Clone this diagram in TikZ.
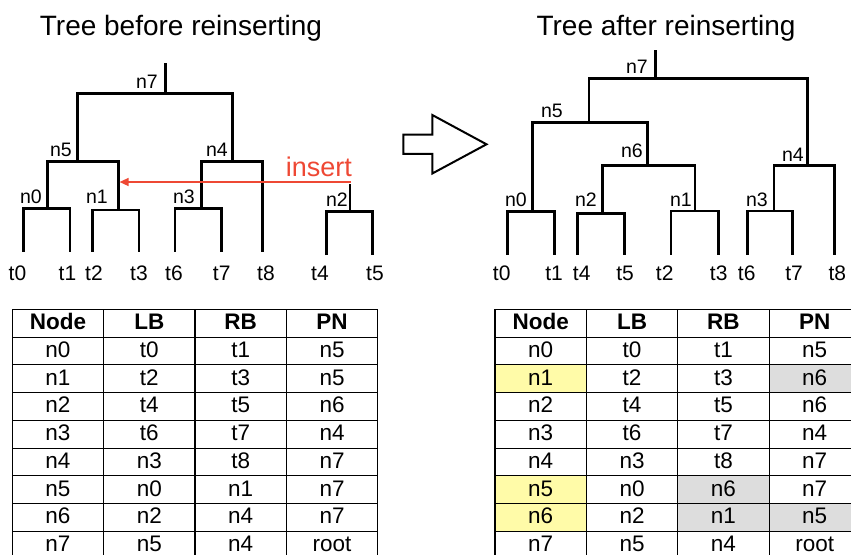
\documentclass[tikz,border=0pt]{standalone}
\usepackage{fontspec}
\setmainfont{Liberation Sans}
\usetikzlibrary{arrows.meta}
\definecolor{insred}{RGB}{238,72,52}
\definecolor{hiyel}{RGB}{255,251,168}
\definecolor{higrey}{RGB}{221,221,221}

\begin{document}
\begin{tikzpicture}[x=1pt,y=-1pt,
  branch/.style={line width=2.5pt, line join=miter, line cap=butt},
  tlabel/.style={font=\fontsize{19.5}{19.5}\selectfont, inner sep=0pt, anchor=base east},
  leaf/.style={font=\fontsize{21}{21}\selectfont, inner sep=0pt, anchor=base},
  title/.style={font=\fontsize{28}{28}\selectfont, inner sep=0pt, anchor=base},
  cell/.style={font=\fontsize{22.5}{22.5}\selectfont, inner sep=0pt, anchor=base},
  headcell/.style={cell, font=\fontsize{22.5}{22.5}\selectfont\bfseries},
  gridline/.style={line width=1.1pt},
  insarrow/.style={draw=insred, line width=1.5pt, -{Triangle[length=9pt,width=8pt]}, shorten >=1.3pt},
  bigarrow/.style={line width=2pt, line join=miter},
]
\useasboundingbox (0,0) rectangle (851,554);
\clip (0,0) rectangle (851,554);

% ---------- titles ----------
\node[title] (title-a) at (181,35) {Tree before reinserting};
\node[title] (title-b) at (666,35) {Tree after reinserting};

% ---------- tree before reinserting ----------
\foreach \n/\x/\y in {t0/23.3/251.7, t1/70/251.7, t2/92.3/251.7, t3/139/251.7,
                      t6/175/251.7, t7/221.7/251.7, t8/262.3/251.7,
                      t4/326.7/255, t5/372.3/255,
                      n0/47.7/208.3, n1/118.3/210, n3/201.7/208.3,
                      n5/77.7/161.7, n4/232.3/161.7, n7/165.7/93.3,
                      n2/350/211.7, top/165.7/63, n2top/350/184}
  \coordinate (a-\n) at (\x,\y);

\draw[branch] (a-t0) -- (a-t0 |- a-n0) -- (a-t1 |- a-n0) -- (a-t1);
\draw[branch] (a-t2) -- (a-t2 |- a-n1) -- (a-t3 |- a-n1) -- (a-t3);
\draw[branch] (a-t6) -- (a-t6 |- a-n3) -- (a-t7 |- a-n3) -- (a-t7);
\draw[branch] (a-n0) -- (a-n0 |- a-n5) -- (a-n1 |- a-n5) -- (a-n1);
\draw[branch] (a-n3) -- (a-n3 |- a-n4) -- (a-t8 |- a-n4) -- (a-t8);
\draw[branch] (a-n5) -- (a-n5 |- a-n7) -- (a-n4 |- a-n7) -- (a-n4);
\draw[branch] (a-n7) -- (a-top);
\draw[branch] (a-t4) -- (a-t4 |- a-n2) -- (a-t5 |- a-n2) -- (a-t5);
\draw[branch] (a-n2) -- (a-n2top);

\foreach \n/\x/\y in {n7/158/88, n5/72/156, n4/228/156, n0/42/203,
                      n1/108/203, n3/195/203, n2/348/206.5}
  \node[tlabel] (a-l\n) at (\x,\y) {\n};
\foreach \n/\x in {t0/17.5, t1/67.5, t2/94, t3/139, t6/174, t7/221.7,
                   t8/266, t4/320, t5/375}
  \node[leaf] (a-l\n) at (\x,280) {\n};

% the subtree n2 is moved under n1
\coordinate (a-insfrom) at (351,182);
\draw[insarrow] (a-insfrom) -- (a-n1 |- a-insfrom);
\node[anchor=base east, inner sep=0pt, text=insred,
      font=\fontsize{27}{27}\selectfont] (a-ins) at (352,176) {insert};

% ---------- block arrow ----------
\draw[bigarrow] (403.3,134.5) -- (432.3,134.5) -- (432.3,115) -- (486.5,144.3)
  -- (432.3,173.5) -- (432.3,153.8) -- (403.3,153.8) -- cycle;

% ---------- tree after reinserting ----------
\foreach \n/\x/\y in {t0/507.3/254.5, t1/554.3/254.5, t4/577.3/254.5, t5/624.3/254.5,
                      t2/671/254.5, t3/718.3/254.5, t6/747.7/254.5, t7/792.7/254.5,
                      t8/834.3/254.5,
                      n0/532.3/211.7, n2/602.7/213.5, n1/695/211, n3/774/211,
                      n6/647.7/165.7, n4/807.7/165.7, n5/589/122.7, n7/655.7/78.3,
                      top/655.7/50}
  \coordinate (b-\n) at (\x,\y);

\draw[branch] (b-t0) -- (b-t0 |- b-n0) -- (b-t1 |- b-n0) -- (b-t1);
\draw[branch] (b-t4) -- (b-t4 |- b-n2) -- (b-t5 |- b-n2) -- (b-t5);
\draw[branch] (b-t2) -- (b-t2 |- b-n1) -- (b-t3 |- b-n1) -- (b-t3);
\draw[branch] (b-t6) -- (b-t6 |- b-n3) -- (b-t7 |- b-n3) -- (b-t7);
\draw[branch] (b-n2) -- (b-n2 |- b-n6) -- (b-n1 |- b-n6) -- (b-n1);
\draw[branch] (b-n3) -- (b-n3 |- b-n4) -- (b-t8 |- b-n4) -- (b-t8);
\draw[branch] (b-n0) -- (b-n0 |- b-n5) -- (b-n6 |- b-n5) -- (b-n6);
\draw[branch] (b-n5) -- (b-n5 |- b-n7) -- (b-n4 |- b-n7) -- (b-n4);
\draw[branch] (b-n7) -- (b-top);

\foreach \n/\x/\y in {n7/648/73, n5/563/117, n6/643/157, n4/804/161,
                      n0/527/206, n2/597/206, n1/692/206, n3/768/206}
  \node[tlabel] (b-l\n) at (\x,\y) {\n};
\foreach \n/\x in {t0/501.7, t1/554, t4/581.7, t5/625, t2/664.7, t3/718.7,
                   t6/746.7, t7/794, t8/837.3}
  \node[leaf] (b-l\n) at (\x,280) {\n};

% ---------- tables ----------
\def\cw{91.35}
\def\rh{27.75}
\def\bl{7.5}

% table before reinserting
\begin{scope}[shift={(12.3,309.3)}]
  \foreach \j/\h in {0/Node, 1/LB, 2/RB, 3/PN}
    \node[headcell] (A-0-\j) at ({(\j+0.5)*\cw},{\rh-\bl}) {\h};
  \foreach \row [count=\i] in {{n0,t0,t1,n5},{n1,t2,t3,n5},{n2,t4,t5,n6},{n3,t6,t7,n4},
                               {n4,n3,t8,n7},{n5,n0,n1,n7},{n6,n2,n4,n7},{n7,n5,n4,root}}
    \foreach \v [count=\j from 0] in \row
      \node[cell] (A-\i-\j) at ({(\j+0.5)*\cw},{(\i+1)*\rh-\bl}) {\v};
  \foreach \k in {0,...,4}
    \draw[gridline] ({\k*\cw},0) -- ({\k*\cw},{9*\rh});
  \foreach \k in {0,...,9}
    \draw[gridline] (0,{\k*\rh}) -- ({4*\cw},{\k*\rh});
\end{scope}

% table after reinserting, changed entries shaded
\begin{scope}[shift={(495,309.3)}]
  \foreach \i/\j/\c in {2/0/hiyel, 6/0/hiyel, 7/0/hiyel,
                        2/3/higrey, 6/2/higrey, 7/2/higrey, 7/3/higrey}
    \fill[\c] ({\j*\cw},{\i*\rh}) rectangle ({(\j+1)*\cw},{(\i+1)*\rh});
  \foreach \j/\h in {0/Node, 1/LB, 2/RB, 3/PN}
    \node[headcell] (B-0-\j) at ({(\j+0.5)*\cw},{\rh-\bl}) {\h};
  \foreach \row [count=\i] in {{n0,t0,t1,n5},{n1,t2,t3,n6},{n2,t4,t5,n6},{n3,t6,t7,n4},
                               {n4,n3,t8,n7},{n5,n0,n6,n7},{n6,n2,n1,n5},{n7,n5,n4,root}}
    \foreach \v [count=\j from 0] in \row
      \node[cell] (B-\i-\j) at ({(\j+0.5)*\cw},{(\i+1)*\rh-\bl}) {\v};
  \foreach \k in {0,...,4}
    \draw[gridline] ({\k*\cw},0) -- ({\k*\cw},{9*\rh});
  \foreach \k in {0,...,9}
    \draw[gridline] (0,{\k*\rh}) -- ({4*\cw},{\k*\rh});
\end{scope}
\end{tikzpicture}
\end{document}
